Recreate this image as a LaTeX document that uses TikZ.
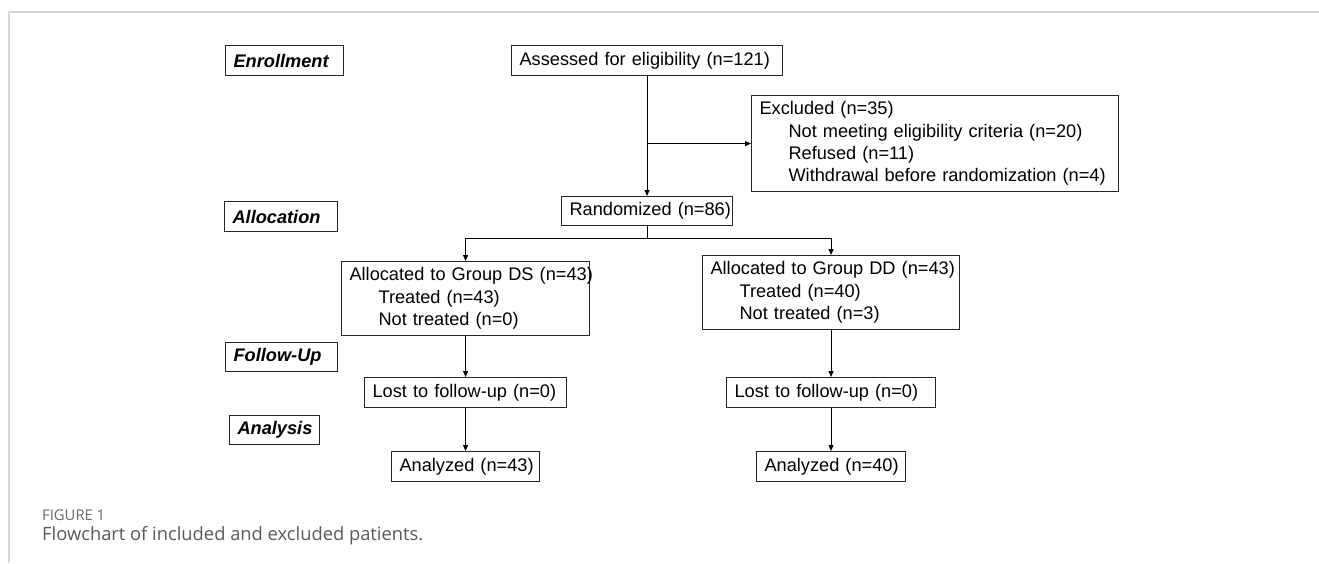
\documentclass[tikz,border=0pt]{standalone}
\usepackage{fontspec}
\setmainfont{Liberation Sans}
\newfontfamily\capfont{Open Sans}
\usetikzlibrary{arrows.meta,calc}
\definecolor{framegray}{HTML}{D6D6D6}
\definecolor{capgray}{HTML}{595959}
\definecolor{figgray}{HTML}{6A6A6A}
\definecolor{boxline}{HTML}{262626}
\newlength\capw
\newlength\figw
\newcommand\ind{\hspace*{29pt}}
\begin{document}
\settowidth\capw{\capfont\fontsize{10}{12}\selectfont Flowchart of included and excluded patients.}%
\settowidth\figw{\capfont\fontsize{10}{12}\selectfont FIGURE 1}%
\pgfmathsetmacro\capsz{10*381/\capw}%
\pgfmathsetmacro\figsz{10*63/\figw}%
\begin{tikzpicture}[x=1pt,y=-1pt,
  box/.style={draw=boxline, line width=1.1pt, anchor=north west, inner xsep=8pt, inner ysep=0pt,
    align=left, font=\fontsize{18.2}{22.3}\selectfont},
  lbl/.style={box, font=\fontsize{18.2}{22.3}\selectfont\bfseries\itshape},
  conn/.style={draw=black, line width=1pt},
  arr/.style={conn, -{Triangle[length=6pt,width=5pt]}}]
\useasboundingbox (0,0) rectangle (1319,563);
\fill[white] (0,0) rectangle (1319,563);
% frame
\draw[framegray, line width=1.5pt] (1319,12) -- (9,12) -- (9,563);
% stage labels
\node[lbl, text width=102pt, minimum height=30pt] (enr) at (225,45) {Enrollment};
\node[lbl, text width=97pt, minimum height=30pt] (alloc) at (224,201) {Allocation};
\node[lbl, text width=96pt, minimum height=29pt] (fol) at (225,342) {Follow-Up};
\node[lbl, text width=74pt, minimum height=29pt] (ana) at (229,415) {Analysis};
% flow boxes
\node[box, text width=255pt, minimum height=30pt] (asse) at (511,45) {\mbox{Assessed for eligibility (n=121)}};
\node[box, text width=351pt, minimum height=96pt] (excl) at (751,95)
  {\mbox{Excluded (n=35)}\\ \mbox{\ind Not meeting eligibility criteria (n=20)}\\ \mbox{\ind Refused (n=11)}\\ \mbox{\ind Withdrawal before randomization (n=4)}};
\node[box, text width=155pt, minimum height=29pt] (rand) at (561,196) {\mbox{Randomized (n=86)}};
\node[box, text width=232pt, minimum height=74pt] (ds) at (341,261)
  {\mbox{Allocated to Group DS (n=43)}\\ \mbox{\ind Treated (n=43)}\\ \mbox{\ind Not treated (n=0)}};
\node[box, text width=241pt, minimum height=74pt] (dd) at (702,255)
  {\mbox{Allocated to Group DD (n=43)}\\ \mbox{\ind Treated (n=40)}\\ \mbox{\ind Not treated (n=3)}};
\node[box, text width=186pt, minimum height=30pt] (lostds) at (364,377) {\mbox{Lost to follow-up (n=0)}};
\node[box, text width=193pt, minimum height=30pt] (lostdd) at (726,377) {\mbox{Lost to follow-up (n=0)}};
\node[box, text width=132pt, minimum height=30pt] (anads) at (391,451) {\mbox{Analyzed (n=43)}};
\node[box, text width=133pt, minimum height=30pt] (anadd) at (756,451) {\mbox{Analyzed (n=40)}};
% connectors
\draw[arr] (asse.south) -- (rand.north);
\coordinate (exbr) at (asse.south |- excl.west);
\draw[arr] (exbr) -- (excl.west);
\coordinate (split) at ($(rand.south)+(0,12)$);
\draw[conn] (rand.south) -- (split);
\draw[arr] (split) -| (ds.north);
\draw[arr] (split) -| (dd.north);
\draw[arr] (ds.south) -- (lostds.north);
\draw[arr] (lostds.south) -- (anads.north);
\draw[arr] (dd.south) -- (lostdd.north);
\draw[arr] (lostdd.south) -- (anadd.north);
% caption
\node[anchor=base west, inner sep=0pt, text=figgray, font=\capfont\fontsize{\figsz}{\figsz}\selectfont] (fig) at (42,520) {FIGURE 1};
\node[anchor=base west, inner sep=0pt, text=capgray, font=\capfont\fontsize{\capsz}{\capsz}\selectfont] (cap) at (42,540) {Flowchart of included and excluded patients.};
\end{tikzpicture}
\end{document}
